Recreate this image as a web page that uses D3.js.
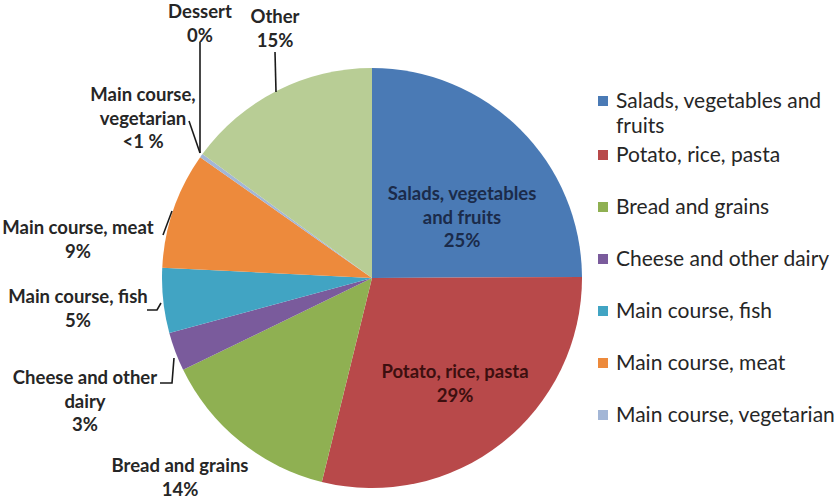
<!DOCTYPE html>
<html>
<head>
<meta charset="utf-8">
<script src="https://cdn.jsdelivr.net/npm/d3@7"></script>
<style>
  body { margin: 0; background: #fff; }
  svg { display: block; }
</style>
</head>
<body>
<div id="Chart"></div>
<script>
// food waste share by category
var categories = ["Salads, vegetables and fruits", "Potato, rice, pasta", "Bread and grains",
    "Cheese and other dairy", "Main course, fish", "Main course, meat",
    "Main course, vegetarian", "Dessert", "Other"];
var shares = [25, 29, 14, 3, 5, 9, 0.3, 0, 15];
var shareLabels = ["25%", "29%", "14%", "3%", "5%", "9%", "<1 %", "0%", "15%"];
var colors = ["#4a7ab5", "#b8494a", "#8fb052", "#7a5b9c", "#41a4c3", "#ed8a3c",
    "#a3b6d6", "#d99694", "#b8cd95"];
var legendItems = 7;

// label layout: text lines, anchor of the text block, leader start
var labelLines = [
    ["Salads, vegetables", "and fruits"],
    ["Potato, rice, pasta"],
    ["Bread and grains"],
    ["Cheese and other", "dairy"],
    ["Main course, fish"],
    ["Main course, meat"],
    ["Main course,", "vegetarian"],
    ["Dessert"],
    ["Other"]
];
var labelAt = [[462, 194], [455, 372], [180, 466], [85, 378], [78, 297], [78, 228], [143, 95], [200, 12], [275, 17]];
var leaders = [null, null, null,
    [[160, 383], [172, 383], [174, 358]],
    [[147, 310], [157, 310], [161, 303]],
    [[163, 235], [172, 211]],
    [[189, 121], [200, 153]],
    [[200, 42], [200, 153]],
    [[275, 52], [276, 92]]];

var width = 834, height = 501;
var cx = 372, cy = 278, radius = 210;

var svg = d3.select("#Chart")
    .append("svg")
    .attr("width", width)
    .attr("height", height)
    .style("font-family", "Lato, 'Open Sans', sans-serif");

var pie = d3.pie().sort(null).value(function(d) { return d; });
var arc = d3.arc().innerRadius(0).outerRadius(radius);
var arcs = pie(shares);

var g = svg.append("g").attr("transform", "translate(" + cx + "," + cy + ")");

g.selectAll("path")
  .data(arcs)
  .enter().append("path")
  .attr("d", arc)
  .style("fill", function(d, i) { return colors[i]; });

// leader lines
svg.selectAll(".leader")
  .data(leaders.filter(function(d) { return d; }))
  .enter().append("polyline")
  .attr("class", "leader")
  .attr("points", function(d) { return d.map(function(p) { return p.join(","); }).join(" "); })
  .style("fill", "none")
  .style("stroke", "#1a1a1a")
  .style("stroke-width", 1.6);

// data labels
var lbl = svg.selectAll(".lbl")
  .data(categories)
  .enter().append("text")
  .attr("class", "lbl")
  .attr("text-anchor", "middle")
  .attr("font-weight", "bold")
  .attr("font-size", 18.5)
  .style("fill", function(d, i) {
      if (i === 0) return "#1b2b4a";
      if (i === 1) return "#3d0f0f";
      return "#262626";
  });

lbl.each(function(d, i) {
    var t = d3.select(this);
    var lines = labelLines[i].concat([shareLabels[i]]);
    lines.forEach(function(s, k) {
        t.append("tspan")
          .attr("x", labelAt[i][0])
          .attr("y", labelAt[i][1] + k * 23.5)
          .attr("dy", ".35em")
          .text(s);
    });
});

// legend
var legend = svg.selectAll(".legend")
  .data(categories.slice(0, legendItems))
  .enter().append("g")
  .attr("class", "legend")
  .attr("transform", function(d, i) { return "translate(598," + (i === 0 ? 101 : 103 + i * 52) + ")"; });

legend.append("rect")
  .attr("x", 0)
  .attr("y", -5)
  .attr("width", 10)
  .attr("height", 10)
  .style("fill", function(d, i) { return colors[i]; });

legend.append("text")
  .attr("x", 18)
  .attr("y", 0)
  .attr("dy", ".35em")
  .attr("font-size", 21)
  .style("fill", "#262626")
  .each(function(d, i) {
      var t = d3.select(this);
      if (i === 0) {
          t.append("tspan").attr("x", 18).text("Salads, vegetables and");
          t.append("tspan").attr("x", 18).attr("dy", 25).text("fruits");
      } else {
          t.text(d);
      }
  });
</script>
</body>
</html>
